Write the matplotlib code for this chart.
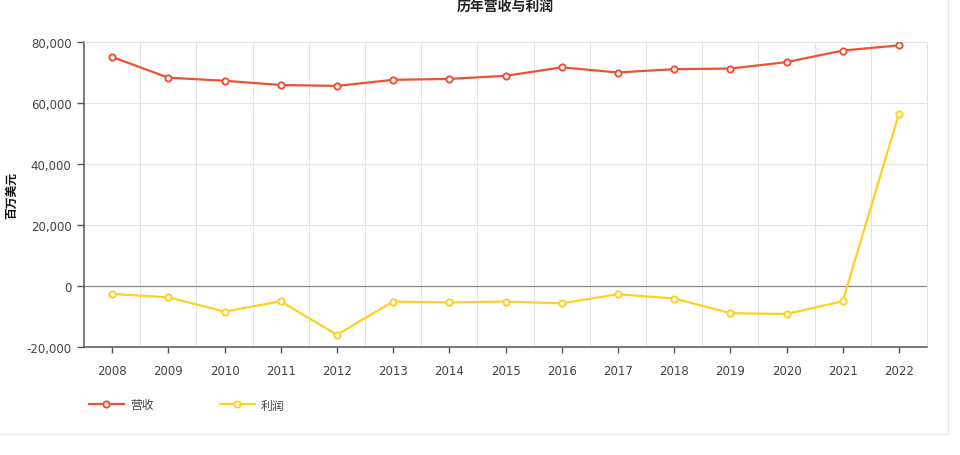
import numpy as np
import matplotlib.pyplot as plt
from matplotlib.lines import Line2D
from matplotlib.ticker import FuncFormatter

plt.rcParams['font.family'] = ['DejaVu Sans', 'Noto Sans CJK SC']

years = [str(y) for y in range(2008, 2023)]
revenue = [75100, 68300, 67300, 65900, 65600, 67600, 67900, 68900,
           71700, 70000, 71100, 71300, 73400, 77200, 78900]
profit = [-2600, -3700, -8400, -5000, -16000, -5100, -5400, -5100,
          -5700, -2700, -4100, -8900, -9200, -5000, 56400]

red = '#ee5136'
yellow = '#fdd023'
txt = '#444444'

fig = plt.figure(figsize=(9.6, 4.56), dpi=100)
ax = fig.add_axes([84 / 960, 1 - 348 / 456, (927 - 84) / 960, (348 - 43) / 456])

x = np.arange(len(years))
ax.plot(x, revenue, color=red, lw=1.6, marker='o', ms=4.5, mfc='white',
        mec=red, mew=1.4, zorder=3, label='营收')
ax.plot(x, profit, color=yellow, lw=1.6, marker='o', ms=4.5, mfc='white',
        mec=yellow, mew=1.4, zorder=3, label='利润')

ax.set_xlim(-0.5, len(years) - 0.5)
ax.set_ylim(-20000, 80000)
ax.set_yticks(range(-20000, 80001, 20000))
ax.yaxis.set_major_formatter(FuncFormatter(lambda v, p: f'{int(v):,}'))
ax.set_xticks(x)
ax.set_xticklabels(years)

for v in range(20000, 80001, 20000):
    ax.axhline(v, color='#e3e3e3', lw=0.8, zorder=1)
ax.axhline(0, color='#888888', lw=0.9, zorder=2)
for b in np.arange(0.5, len(years) - 1, 1):
    ax.axvline(b, color='#e3e3e3', lw=0.8, zorder=1)

for s in ['left', 'bottom']:
    ax.spines[s].set_color('#555555')
    ax.spines[s].set_linewidth(1.1)
for s in ['top', 'right']:
    ax.spines[s].set_color('#e3e3e3')
    ax.spines[s].set_linewidth(0.8)

ax.tick_params(axis='both', colors='#555555', labelcolor=txt, labelsize=8.5, width=1)
ax.tick_params(axis='y', length=5, pad=4)
ax.tick_params(axis='x', length=4, pad=8)

ax.set_ylabel('百万美元', fontsize=8.5, color='#111111', fontweight='bold', labelpad=6)
fig.text(505 / 960, 1 - 7 / 456, '历年营收与利润', ha='center', va='center',
         fontsize=10, fontweight='bold', color='#222222')

handles = [Line2D([], [], color=red, lw=1.6, marker='o', ms=4.5, mfc='white', mec=red, mew=1.4),
           Line2D([], [], color=yellow, lw=1.6, marker='o', ms=4.5, mfc='white', mec=yellow, mew=1.4)]
fig.legend(handles, ['营收', '利润'], loc='center left', bbox_to_anchor=(78 / 960, 1 - 406 / 456),
           ncol=2, frameon=False, fontsize=8.5, handlelength=3, handletextpad=0.5,
           columnspacing=5.6, labelcolor=txt)

# card border
fig.add_artist(Line2D([0, 948 / 960], [1 - 435 / 456] * 2, color='#e8e8e8', lw=1))
fig.add_artist(Line2D([948 / 960] * 2, [1 - 435 / 456, 1], color='#e8e8e8', lw=1))

fig.savefig('out.png', dpi=100)
